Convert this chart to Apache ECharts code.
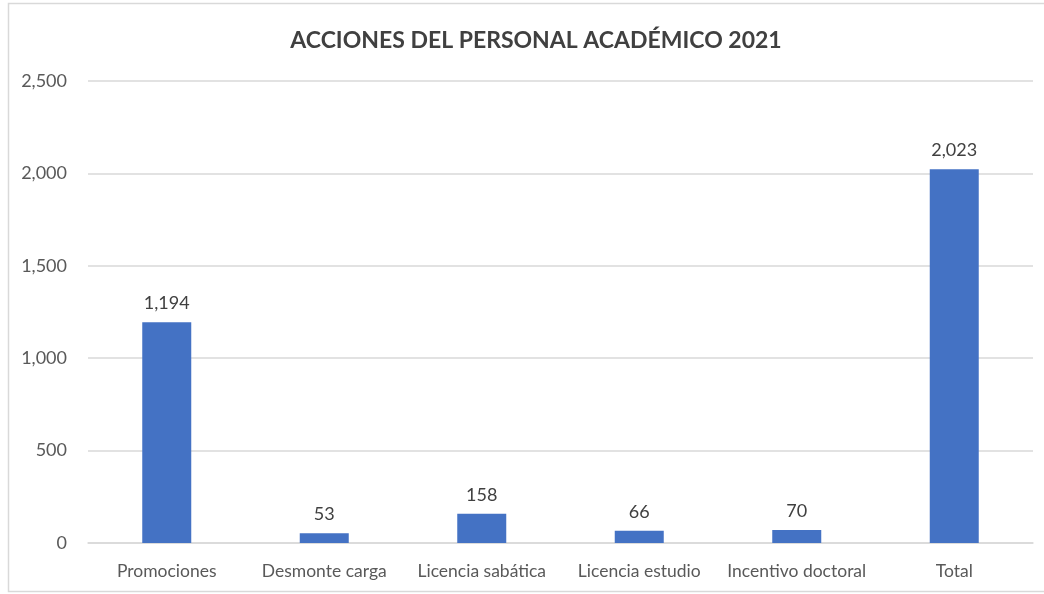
<!DOCTYPE html>
<html><head><meta charset="utf-8">
<script src="https://cdn.jsdelivr.net/npm/echarts@6/dist/echarts.min.js"></script>
<style>html,body{margin:0;padding:0;background:#fff}#c{width:1044px;height:594px}</style>
</head><body><div id="c"></div>
<script>
const title = 'ACCIONES DEL PERSONAL ACADÉMICO 2021';
const categories = ['Promociones','Desmonte carga','Licencia sabática','Licencia estudio','Incentivo doctoral','Total'];
const values = [1194, 53, 158, 66, 70, 2023];
const yTicks = {min:0, max:2500, interval:500};

const chart = echarts.init(document.getElementById('c'));
const font = 'Lato, "Open Sans", sans-serif';
chart.setOption({
  animation:false,
  title:{text:title,left:531,top:24,textAlign:'center',textStyle:{fontFamily:font,fontSize:23,fontWeight:'bold',color:'#404040'}},
  graphic:[{type:'rect',shape:{x:8.5,y:3.5,width:1100,height:588},style:{fill:'none',stroke:'#d9d9d9',lineWidth:1.5},silent:true}],
  grid:{left:88,right:11,top:81,bottom:51,containLabel:false},
  xAxis:{type:'category',data:categories,
    axisLine:{lineStyle:{color:'#d9d9d9',width:1.5}},axisTick:{show:false},
    axisLabel:{interval:0,fontFamily:font,fontSize:17.5,color:'#595959',margin:19}},
  yAxis:{type:'value',min:yTicks.min,max:yTicks.max,interval:yTicks.interval,
    axisLine:{show:false},axisTick:{show:false},
    splitLine:{lineStyle:{color:'#d9d9d9',width:1.5}},
    axisLabel:{fontFamily:font,fontSize:18,color:'#595959',margin:21,
      formatter:v=>v.toLocaleString('en-US')}},
  series:[{type:'bar',data:values,barWidth:49,
    itemStyle:{color:'#4472c4'},
    label:{show:true,position:'top',distance:10,fontFamily:font,fontSize:18,color:'#404040',
      formatter:p=>p.value.toLocaleString('en-US')}}]
});
</script></body></html>
